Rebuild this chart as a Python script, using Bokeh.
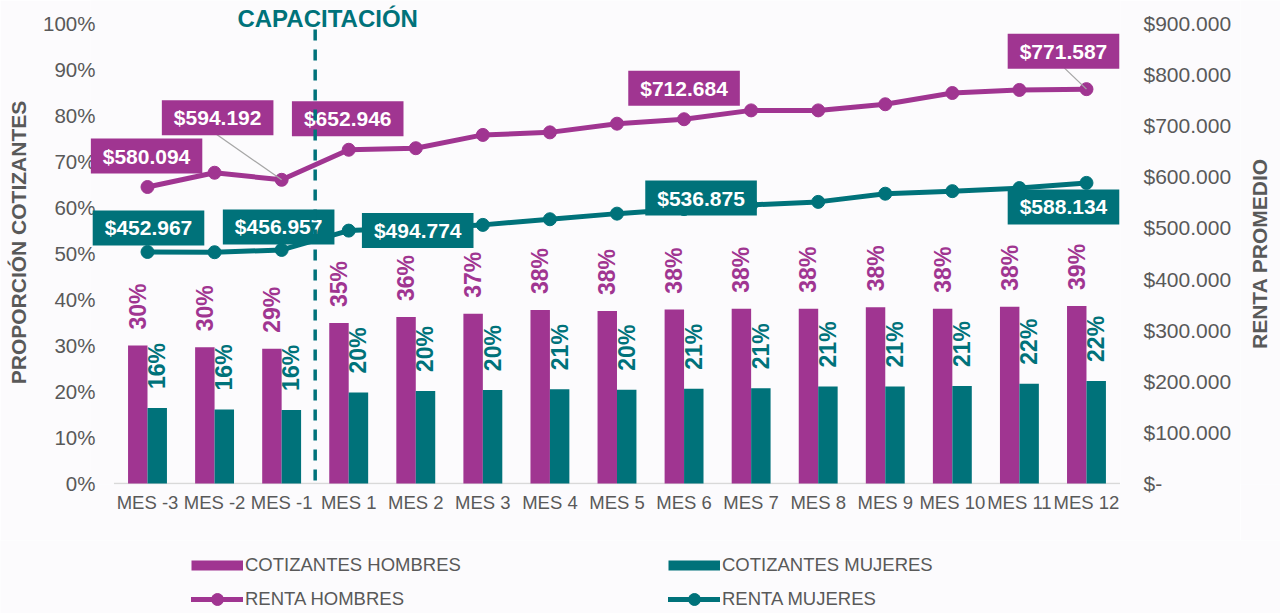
import math
from bokeh.plotting import figure
from bokeh.layouts import row, column
from bokeh.models import (Range1d, LinearAxis, FixedTicker, ColumnDataSource, LabelSet,
                          Label, Legend, LegendItem)
from bokeh.core.properties import value
from bokeh.transform import dodge
from bokeh.embed import file_html
from bokeh.resources import INLINE

# ---------------- data ----------------
categories = ["MES -3", "MES -2", "MES -1", "MES 1", "MES 2", "MES 3", "MES 4", "MES 5",
              "MES 6", "MES 7", "MES 8", "MES 9", "MES 10", "MES 11", "MES 12"]
cotizantes_hombres = [30.0, 29.6, 29.3, 34.9, 36.2, 36.9, 37.7, 37.5, 37.8, 38.0, 38.0, 38.3, 38.0, 38.4, 38.6]
cotizantes_mujeres = [16.4, 16.1, 16.0, 19.8, 20.1, 20.3, 20.5, 20.4, 20.6, 20.7, 21.1, 21.1, 21.2, 21.7, 22.3]
renta_hombres = [580094, 608000, 594192, 652946, 656000, 682000, 687000, 704000, 712684,
                 730000, 730000, 742000, 764000, 770000, 771587]
renta_mujeres = [452967, 452500, 456957, 494774, 500000, 506000, 517000, 528000, 536875,
                 545000, 551000, 567000, 572000, 578000, 588134]
pct_ticks = [0, 10, 20, 30, 40, 50, 60, 70, 80, 90, 100]
pct_tick_labels = ["0%", "10%", "20%", "30%", "40%", "50%", "60%", "70%", "80%", "90%", "100%"]
renta_ticks = [0, 100000, 200000, 300000, 400000, 500000, 600000, 700000, 800000, 900000]
renta_tick_labels = ["$-", "$100.000", "$200.000", "$300.000", "$400.000", "$500.000",
                     "$600.000", "$700.000", "$800.000", "$900.000"]
capacitacion_after = "MES -1"

# ---------------- styles / layout (page pixels) ----------------
PURPLE = "#A03591"
TEAL = "#00727A"
GRAY = "#595959"
BG = "#FCFBFD"
FONT = "Liberation Sans"

CAT0_X = 147.0             # x of first category centre
CAT_W = 67.07              # px per category
Y0_PX, Y100_PX = 483.0, 23.0
FRAME_L, FRAME_R, FRAME_T, FRAME_B = 90, 1120, 0, 484
MAIN_W, MAIN_H = 1240, 540
TOTAL_W = 1280
TITLE_X_PX = 1258.5
LEG_H = 73

RMAX = renta_ticks[-1]
PMAX = pct_ticks[-1]
PX_PER_PCT = (Y0_PX - Y100_PX) / PMAX
R_PER_PCT = RMAX / PMAX
x_start = -(CAT0_X - FRAME_L) / CAT_W
x_end = (FRAME_R - CAT0_X) / CAT_W
y_start = -(FRAME_B - Y0_PX) / PX_PER_PCT
y_end = PMAX + (Y100_PX - FRAME_T) / PX_PER_PCT
UX = 1 / CAT_W                  # x data units per px
UY = R_PER_PCT / PX_PER_PCT     # renta units per px

# callout label offsets in px: (index, dx, dy-up)
hombres_callouts = [(0, -1, 31), (2, -64, 62), (3, -1, 31), (8, 0, 31), (14, -23, 38)]
mujeres_callouts = [(0, 1, 24), (2, -3, 23), (3, 69, 0), (8, 17, 11), (14, -23, -24)]
# leader lines (index, start dx, start dy-up) for hombres
hombres_leaders = [(2, -66, 46), (14, -22, 21)]


def fmt_money(v):
    return "$" + f"{v:,.0f}".replace(",", ".")


def fmt_pct(v):
    return f"{math.floor(v + 0.5):d}%"


def base_fig(w, h, xr, yr, **kw):
    return figure(width=w, height=h, x_range=xr, y_range=yr, output_backend="svg",
                  toolbar_location=None, background_fill_color=BG, border_fill_color=BG,
                  outline_line_color=None, **kw)


xs = list(range(len(categories)))
src = ColumnDataSource(dict(
    x=xs, h=cotizantes_hombres, m=cotizantes_mujeres, rh=renta_hombres, rm=renta_mujeres,
    h_lbl=[fmt_pct(v) for v in cotizantes_hombres],
    m_lbl=[fmt_pct(v) for v in cotizantes_mujeres],
))

p = base_fig(MAIN_W, MAIN_H, Range1d(x_start, x_end), Range1d(y_start, y_end),
             min_border_left=FRAME_L, min_border_right=MAIN_W - FRAME_R,
             min_border_top=FRAME_T, min_border_bottom=MAIN_H - FRAME_B)
p.extra_y_ranges = {"renta": Range1d(y_start * R_PER_PCT, y_end * R_PER_PCT)}
p.xgrid.visible = False
p.ygrid.visible = False

# baseline (category axis line)
p.segment(x0=[xs[0] - 0.5], y0=[pct_ticks[0]], x1=[xs[-1] + 0.5], y1=[pct_ticks[0]],
          line_color="#D9D9D9", line_width=1.5)

# bars
BW = 0.29
p.vbar(x=dodge("x", -BW / 2, range=p.x_range), top="h", width=BW, source=src,
       fill_color=PURPLE, line_color=None)
p.vbar(x=dodge("x", BW / 2, range=p.x_range), top="m", width=BW, source=src,
       fill_color=TEAL, line_color=None)

p.add_layout(LabelSet(x=dodge("x", -BW / 2, range=p.x_range), y="h", text="h_lbl", source=src,
                      angle=math.pi / 2, text_align="left", text_baseline="middle", y_offset=16,
                      text_font=value(FONT), text_font_size="23px", text_font_style="bold",
                      text_color=PURPLE))
p.add_layout(LabelSet(x=dodge("x", BW / 2, range=p.x_range), y="m", text="m_lbl", source=src,
                      angle=math.pi / 2, text_align="left", text_baseline="middle", y_offset=19,
                      text_font=value(FONT), text_font_size="23px", text_font_style="bold",
                      text_color=TEAL))

# lines
lh = p.line("x", "rh", source=src, y_range_name="renta", line_width=5, line_color=PURPLE)
sh = p.scatter("x", "rh", source=src, y_range_name="renta", size=13, fill_color=PURPLE,
               line_color=PURPLE)
lm = p.line("x", "rm", source=src, y_range_name="renta", line_width=5, line_color=TEAL)
sm = p.scatter("x", "rm", source=src, y_range_name="renta", size=13, fill_color=TEAL,
               line_color=TEAL)

# leader lines
p.segment(x0=[i + dx * UX for i, dx, dy in hombres_leaders],
          y0=[renta_hombres[i] + dy * UY for i, dx, dy in hombres_leaders],
          x1=[i for i, dx, dy in hombres_leaders],
          y1=[renta_hombres[i] for i, dx, dy in hombres_leaders],
          y_range_name="renta", line_color="#A6A6A6", line_width=1.3)

# callouts
for series, callouts, color in ((renta_hombres, hombres_callouts, PURPLE),
                                (renta_mujeres, mujeres_callouts, TEAL)):
    for i, dx, dy in callouts:
        p.add_layout(Label(x=i, y=series[i], y_range_name="renta", text=fmt_money(series[i]),
                           x_offset=dx, y_offset=dy, text_align="center", text_baseline="middle",
                           text_font=FONT, text_font_size="21px", text_font_style="bold",
                           text_color="white", background_fill_color=color,
                           padding=dict(left=12, right=12, top=6, bottom=6)))

# training divider
div_x = categories.index(capacitacion_after) + 0.5
p.segment(x0=[div_x], y0=[PMAX - 6 / PX_PER_PCT], x1=[div_x], y1=[pct_ticks[0]],
          line_color=TEAL, line_width=3.5, line_dash="11 9", level="overlay")
p.add_layout(Label(x=div_x, y=PMAX, text="CAPACITACIÓN", x_offset=12.5, y_offset=5,
                   text_align="center", text_baseline="middle", text_font=FONT,
                   text_font_size="24px", text_font_style="bold", text_color=TEAL))

# axes
xa = p.xaxis[0]
xa.ticker = FixedTicker(ticks=xs)
xa.major_label_overrides = {i: c for i, c in zip(xs, categories)}
xa.major_label_text_font = FONT
xa.major_label_text_font_size = "18.5px"
xa.major_label_text_color = GRAY
xa.major_label_standoff = 7
xa.axis_line_color = None
xa.major_tick_line_color = None
xa.minor_tick_line_color = None
xa.major_tick_out = 0
xa.minor_tick_out = 0

ya = p.yaxis[0]
ya.ticker = FixedTicker(ticks=pct_ticks)
ya.major_label_overrides = {t: l for t, l in zip(pct_ticks, pct_tick_labels)}
ya.axis_label = "PROPORCIÓN COTIZANTES"
ya.axis_label_text_font = FONT
ya.axis_label_text_font_size = "21px"
ya.axis_label_text_font_style = "bold"
ya.axis_label_text_color = GRAY
ya.axis_label_standoff = 10
ya.major_label_text_font = FONT
ya.major_label_text_font_size = "20.5px"
ya.major_label_text_color = GRAY
ya.major_label_standoff = -5
ya.axis_line_color = None
ya.major_tick_line_color = None
ya.minor_tick_line_color = None
ya.major_tick_out = 0
ya.minor_tick_out = 0

ra = LinearAxis(y_range_name="renta", ticker=FixedTicker(ticks=renta_ticks))
ra.major_label_overrides = {t: l for t, l in zip(renta_ticks, renta_tick_labels)}
ra.major_label_text_font = FONT
ra.major_label_text_font_size = "21px"
ra.major_label_text_color = GRAY
ra.major_label_standoff = 23
ra.axis_line_color = None
ra.major_tick_line_color = None
ra.minor_tick_line_color = None
ra.major_tick_out = 0
ra.minor_tick_out = 0
p.add_layout(ra, "right")

# right-hand axis title (separate narrow panel, shares the y scale)
TW = TOTAL_W - MAIN_W
t = base_fig(TW, MAIN_H, Range1d(0, TW), p.y_range, x_axis_type=None, y_axis_type=None,
             min_border_left=0, min_border_right=0, min_border_top=FRAME_T,
             min_border_bottom=MAIN_H - FRAME_B)
t.text(x=[TITLE_X_PX - MAIN_W], y=[(pct_ticks[0] + pct_ticks[-1]) / 2], text=["RENTA PROMEDIO"],
       angle=math.pi / 2, text_align="center", text_baseline="middle",
       text_font=value(FONT), text_font_size="21px", text_font_style="bold", text_color=GRAY)

# legend panel
lf = base_fig(TOTAL_W, LEG_H, Range1d(0, 1), Range1d(0, 1), x_axis_type=None,
              y_axis_type=None, min_border=0)
OFF = [-10, -9]   # legend-only renderers, kept outside the visible range
dh = lf.line(x=OFF, y=OFF, line_width=10, line_color=PURPLE, line_cap="butt")
dm = lf.line(x=OFF, y=OFF, line_width=10, line_color=TEAL, line_cap="butt")
dlh = lf.line(x=OFF, y=OFF, line_width=5, line_color=PURPLE, line_cap="round")
dsh = lf.scatter(x=OFF, y=OFF, size=13, fill_color=PURPLE, line_color=PURPLE)
dlm = lf.line(x=OFF, y=OFF, line_width=5, line_color=TEAL, line_cap="round")
dsm = lf.scatter(x=OFF, y=OFF, size=13, fill_color=TEAL, line_color=TEAL)
legend = Legend(items=[LegendItem(label="COTIZANTES HOMBRES", renderers=[dh]),
                       LegendItem(label="COTIZANTES MUJERES", renderers=[dm]),
                       LegendItem(label="RENTA HOMBRES", renderers=[dlh, dsh]),
                       LegendItem(label="RENTA MUJERES", renderers=[dlm, dsm])],
                location=(191, -1), orientation="horizontal", ncols=2,
                glyph_width=52, glyph_height=30, label_width=419, label_height=16,
                label_standoff=2, spacing=4, padding=0, margin=0,
                border_line_color=None, background_fill_alpha=0,
                label_text_font=FONT, label_text_font_size="18.5px", label_text_color=GRAY)
lf.add_layout(legend, "center")

layout = column(row(p, t, spacing=0), lf, spacing=0)
open("out.html", "w").write(file_html(layout, INLINE))
